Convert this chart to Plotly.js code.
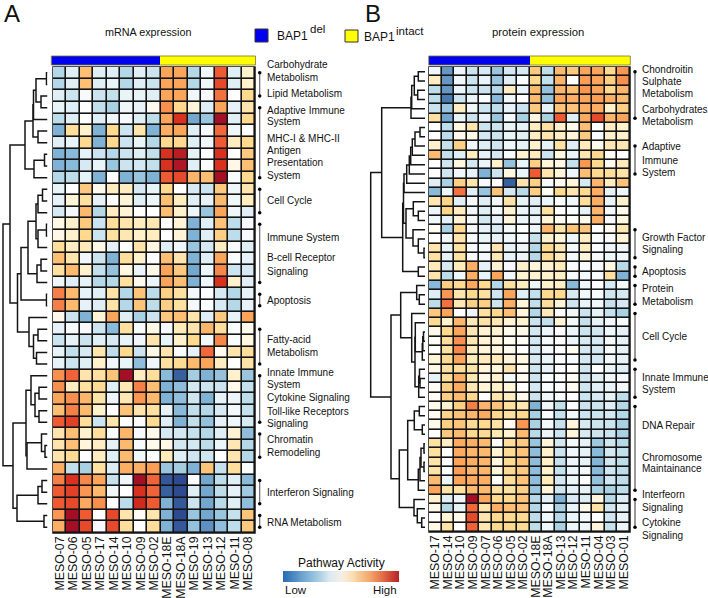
<!DOCTYPE html>
<html><head><meta charset="utf-8">
<script src="https://cdn.plot.ly/plotly-3.0.1.min.js"></script>
<style>html,body{margin:0;padding:0;background:#fff}#c{width:708px;height:598px}</style>
</head><body><div id="c"></div>
<script>
var W=708,H=598;
var samplesA=['MESO-07','MESO-06','MESO-05','MESO-17','MESO-14','MESO-10','MESO-09','MESO-02','MESO-18E','MESO-18A','MESO-19','MESO-13','MESO-12','MESO-11','MESO-08'];
var samplesB=['MESO-17','MESO-14','MESO-10','MESO-09','MESO-07','MESO-06','MESO-05','MESO-02','MESO-18E','MESO-18A','MESO-13','MESO-12','MESO-11','MESO-04','MESO-03','MESO-01'];
var delCountA=8, delCountB=8;
var valuesA=[
[-2,-1,2.5,-1,-1,-2,-1,-1.5,3,3,-2,-.5,4,-1,1],
[-2,-1,2.5,-1,-.7,-2,-1,-1.5,3,3,-2,-.5,4.2,-1,1],
[-1,-1.5,-.3,-1.5,-1.7,-.7,-.7,-1,3,3,-.5,-.3,3.7,0,2],
[-.7,-1,0,-1.7,-2.2,-.5,-.7,.3,3.3,2,.7,-1,3,-.8,1.5],
[-1.8,-1,0,-1,-.5,-.3,-1,-1.8,3,4.5,-3.2,-2.5,5,-1,2],
[-3,1.8,1,-3,2,-1.5,1.5,-3,2.8,3,-1,-.3,3.8,-.5,0],
[-1,-.7,2,-3,2,-1.5,-.7,-2,2,2,-1,-.5,4,1.2,2],
[-3,-2.8,-.8,-1.5,-2,-1.5,-1,-1.7,4.5,4.8,-.8,0,4.5,0,2.3],
[-3,-2.8,-1.2,-.7,-2.5,-1.5,-1.3,-1.7,4.5,4.9,-1,-.2,4.5,.5,2.5],
[-2,-1.8,-.8,-3,0,-3,-2.5,-3,4,4.2,2.7,2.5,5,-.2,2],
[-.7,0,2.3,.4,1.2,1.2,-1.2,-.7,2,0,-1.2,-1.5,2.3,-.5,1.5],
[-.8,.8,1.7,-.8,0,.8,-1,-.6,2.5,1.2,-1,-.8,2.6,-.5,1.2],
[-1.2,-.4,2.6,-2,1.2,.8,0,0,2.5,1,-.6,-2.5,3,-.5,-1],
[.5,1,2.3,-1.5,1.8,1.5,1.2,1.4,0,.8,-3,-1,2.4,-1.8,-.3],
[.5,1,2,-1.5,1.7,1.4,1,1.2,0,.8,-3,-1,2.2,-1.8,-.3],
[1.8,1.2,1.3,.5,-.8,0,1.6,.6,-1,-.5,-2.5,-1.2,1.2,-.3,-1],
[2.5,1.5,-.5,-1.5,-3,1.8,1,0,2.5,1.5,-3,-1,3,-.2,-.8],
[1.7,2.6,1,-1.7,-2.6,.6,-.6,.5,3,2.3,-3.2,-.6,3.4,-1.5,-1.2],
[-.5,-1,-.8,-2,-2,1.7,.4,-.6,3,2.5,-3,-.5,4.5,1,-1],
[3.5,2.6,-.8,-1,1.6,-2,2.4,-1.8,2.2,1.7,-.4,-.1,-1.2,-2,-.8],
[3.5,2.6,-.8,-1,1.6,-2,2.4,-1.8,2.2,1.7,-.4,-.1,-1.2,-2,-.8],
[.4,-1.5,-3,.8,3,-1,-2.2,-1.5,2.3,2.5,1.5,-1,2.3,-.8,3],
[-.8,-.3,-.3,-1.5,-2.8,1.7,-.3,.5,-.3,1.3,1.5,2.7,1.8,-.2,.4],
[-1.5,-.8,-1.5,-1,-1.2,-.7,-.5,1.5,-.7,1,2,-.4,3.4,-.2,.6],
[-.8,-1.7,-1.2,1.5,-1.8,2,-1.5,.5,1.5,-.2,-.8,3.8,.3,1.5,1.8],
[-.8,-1.5,-1,1,-.5,-.7,-2.7,-.5,1.7,1.9,2.6,3,1.2,0,1.6],
[3.3,3.9,1.5,1.7,2.4,5,1.2,1.8,-2.8,-4.5,-2.3,-3,-2.6,1,-2.5],
[3.3,1.2,1.7,1.9,-1,1.4,3.5,2.5,-3,-2.7,-1.3,-1.5,-1.5,.4,-1.6],
[3,3.3,2.7,1.6,-.6,1.4,3.2,2.6,-3,-2.7,-1.4,-3,-.8,-.6,-1.8],
[2.5,3.5,2.6,1,0,2.4,1.5,1.7,-.8,-2.8,-1.7,-2,-1.2,-.4,-1.6],
[4,4.3,1.8,-1.5,1.5,.1,-.2,1.9,-1,-3,-1.7,-2.6,-.8,-.5,-1.2],
[1.5,2.5,1,1.8,-.2,2.7,-.3,.4,-1.2,-1.3,-1.6,-2,-1,.9,-2.7],
[1.5,2.5,.7,1.2,-.8,2.6,-.3,.4,.5,-1.3,-1.3,-1.8,-.6,1.4,-2],
[1.5,1.9,0,1.2,-1,2.6,-.5,-.1,1.3,-1,-1.4,-1.4,0,1.5,-2],
[2.8,-1.7,-2.2,1.7,-1.1,2.8,2.8,3.1,-2.5,-2.3,-3,2.4,-1.6,1.8,-.2],
[3.5,4.5,3.4,3,-1.6,-.5,5,3.9,-4.7,-5,0,-3.2,-1.8,-1,-2.8],
[4,4.3,3.2,2.6,-.5,0,4.5,3.9,-4.5,-5,-1,-3.2,-1.8,-.8,-2.4],
[4,4.2,2.9,3.3,0,-1.8,4.6,4,-3,-4.7,-1.5,-3.2,-1.9,-1,-2.7],
[3.2,5,4,0,4.2,1.5,.2,1.5,-3,-5,-2.5,-3.2,-2.5,-1.6,2.4],
[2.8,5,4.2,-.3,4.2,1.8,0,1.8,-3,-4.7,-2.6,-3.6,-2.7,-1.8,2.3]];
var valuesB=[
[-.5,-3.5,-.6,-1.5,-1.2,-2.5,-1.3,-1.2,2.3,-1.8,2.6,2.3,3,3,2,3.2],
[1.2,-3.5,-.5,-1.5,-.7,-2.5,-1,-.1,2,-1.7,2.7,0,3.1,3,2.2,3.3],
[-1.8,-3.5,-.6,-1.5,-1.5,-2,1.2,-.7,2.6,-2.6,2.7,2.5,3.2,3,2,2.7],
[-1.8,-4,-1.5,-.7,-.2,-2.8,-.5,0,2.6,-2.6,3,2.8,3,3.1,2.8,2.6],
[-1.5,-2.5,1.2,-.5,-1.5,-1.8,-.8,-1.5,2.3,-.8,2.4,2.4,2.8,2.8,1,2.2],
[1.7,-3.2,-.7,-1.5,-.8,-2.5,-.4,-2.2,.6,-2.2,4,-1,2.9,4.2,2.7,3],
[0,-1.8,.6,1.5,-1.5,-1.5,-.7,-.8,1.2,1.7,1,.5,2.5,0,1.2,1],
[0,-1.8,.4,.5,-1.3,-1.5,-.7,-.9,1.2,1.5,1.2,.7,2.3,-.2,1,1],
[1,-1.6,2.2,-.5,-1,-1.4,-.6,-.8,1,-.8,1.7,-1,1.3,.4,1.4,1.4],
[2.6,-1.6,-1,1.2,-.8,-1.2,-.3,.9,1.3,-1.5,.6,-.7,1.5,2,.2,0],
[0,-1.4,.6,-1.3,-.6,1,-2.6,-.7,2.2,.7,.5,-1.6,3.2,2,.3,1.3],
[0,-1.4,-.5,-.8,-3,-1.5,.6,-.7,4,1.5,.7,-.5,2.5,2,1.8,1.6],
[-1,-2.2,2.2,1.5,-.3,0,-4.5,1.5,2.2,-.3,.3,.8,-1.2,2.7,1.2,2.4],
[-2.8,-.6,3.7,-1,-2.5,2.4,-1.3,-1.9,2.2,.3,2,1.5,2,2.8,-.8,-.5],
[1.4,2.1,-1,-.3,-1,-.5,1.6,-.7,-1,-.6,-.2,-.5,1.8,2.8,-.7,1],
[-.6,2.1,1.2,-.5,-1,-.4,.9,-.6,-.9,1.7,0,-.2,-.8,2.7,-.4,.4],
[-.5,-.9,.9,-.4,-1.3,-.8,.7,-.6,-.7,.8,.3,.1,.4,2.8,-.3,.6],
[.2,-2.2,2,-.4,-.8,-1.2,-.4,0,-.6,2.7,1.6,2.4,2.4,-.1,.3,1.4],
[0,-.5,1.5,-.3,-.7,-.8,-.5,-.3,-1.6,1,.7,-.6,1.2,-.2,-.2,.8],
[1.5,-.8,1.7,-.3,-.4,1.5,-.8,-.6,-2,2,1.4,-.4,1.2,-.2,-.6,-.5],
[1.7,-.8,1.7,-.3,-.4,1.4,-.8,-.6,-2,1.9,1.3,-.4,.7,-.3,-.6,-.5],
[1.3,-1.2,1.3,2.8,-.8,.9,-.3,1,.7,.9,1.3,-.2,-.2,-.3,.6,-1.9],
[1.5,-1.8,-.5,2.8,-.7,3,-.4,.9,.9,1,1.1,-.3,-.3,-.3,1.7,-3],
[-2.8,2.2,1.9,2.9,2,-2,1.7,1.2,-.6,1,1.1,-2.8,-.5,0,-1.2,-.4],
[-1,3.2,1.5,2,1.7,-1.4,3,-1,-1.7,2,2,-1.2,-.5,-.3,-1.4,-1.3],
[-1.8,3.7,1.4,2.2,2.2,-1.5,2.8,.7,-1.7,1.8,.8,-1.4,-.7,-.5,-1.6,-1.3],
[2.3,3,0,-.5,1.7,2,2.5,.7,-2,1.3,-.1,-.5,-1.5,-.8,-1.6,-2.2],
[1.9,.9,2.7,1.3,1.6,1.4,.8,.9,-1.5,-1.7,.8,-.4,-1.6,-.8,-.4,-.2],
[.5,2,3,1.4,.9,.9,.4,.5,-1.3,-.6,-.1,-.6,-1.5,-1.3,-.5,-.8],
[.2,1.8,3.3,1.4,.8,.7,.3,.2,-1.3,-.4,0,-.6,-1.2,-1.2,-.4,-.8],
[0,1.7,3.4,1.2,.7,.7,.3,0,-1.2,-.4,-.1,.3,-1.3,-1.3,-.3,-.8],
[.8,2,3,1.3,1.3,1.3,.7,.6,-1.2,-.7,-.1,-.3,-1.3,-1.3,-.5,-.8],
[.5,1.7,1.8,1.6,.7,.7,1.5,.3,-1.4,-.8,-.1,.1,-1.4,0,-.7,-1],
[-.8,1.8,2.8,1.4,.5,1,-.4,.3,-1.5,-.2,-.1,.2,-1.4,-1,-.5,-.2],
[.2,2.2,2.9,1.4,.8,1,.7,0,-1.3,-.2,-.1,.3,-1.4,-1,-.7,-.4],
[.2,2.2,2.6,2,0,1.5,1.2,.4,-1.5,-.5,-.2,0,-1.5,-1.2,-.8,-1.8],
[.4,.9,2.2,3.5,2.7,2.4,1.7,1.4,-3,-.5,-1.7,0,-1.5,-1.5,-1,-2],
[.3,2.1,2.4,2.7,2.9,2,1.7,2,-2.2,-.2,-1.6,-.4,-1.5,-1.5,-1.3,-2],
[.4,2.2,2.4,1.9,2,1.6,.3,3.2,-2.2,-.4,-1.6,.7,-1.2,-1.5,-1.5,-2.2],
[0,2.3,2.6,2,1.9,1.4,.9,2.6,-1.9,-.6,-1.5,.7,-1.2,-1.4,-1.5,-2.2],
[1.7,1.1,2.9,2.8,2.6,0,1.8,2.3,-2.5,.7,-1.3,-.4,-.8,-2.4,-1.4,-2],
[1.7,0,2.9,2.7,2.6,.8,1.9,2.4,-2.7,1,-1.5,-.5,-.8,-2.8,-1.3,-1.7],
[1.6,-.1,3,2.8,2.7,.6,1.9,2.4,-2.7,1.1,-1.6,-.6,-.8,-2.9,-1.4,-1.8],
[1.6,-.1,3.1,2.7,2.7,.7,1.9,2.3,-2.7,1,-1.6,-.6,-.4,-2.8,-1.4,-1.8],
[2.6,-.6,3,2.9,2.8,0,1.8,2.4,-2.7,1.3,-1.3,-.6,0,-2.6,-1.4,-1.8],
[3,1.6,1.7,2.6,2.6,1.7,1.7,2.2,-2.5,.7,-1.4,-.9,-.8,-2.2,-2.2,-1.8],
[1,-1,-.6,5,3,2,2,2.4,-2,-.9,-3,-1.2,-1.1,.7,-2,-1.1],
[.5,-2,-.8,3.8,1.5,2.8,2.5,2.4,-2,-.3,-2.2,-.7,.4,1.6,-1.4,-.8],
[0,.8,.4,4.2,1.5,2,2,2,-1.8,-.5,-2,-.6,-.4,0,-1.4,-.8],
[.5,1.6,0,3.9,1.4,2,2,1.9,-1.8,-.5,-2.2,-.6,-.6,.7,-1.6,-.6]];
// dendrogram merges: [height, left, right]; numbers are row numbers
var treeA=[44.5,
 [37.5,
  [22.5,[14.5,[14,[11.5,[1,1,2],[6.5,3,4]],5],[9.5,6,7]],[13.5,[3,8,9],10]],
  [30,
   [26.5,[19.5,[11.5,[9.5,[5,11,12],13],[9.5,[1,14,15],16]],[10.5,[6.5,17,18],19]],[1,20,21]],
   [18.5,22,[14,[9.5,23,24],[11,25,26]]]]],
 [34.5,
  [21.5,[16.5,27,[12.5,[8.5,28,29],[8.5,30,31]]],[20.5,[6,32,[2.5,33,34]],35]],
  [30.5,[9.5,[5.5,36,37],38],[3.5,39,40]]]];
var treeB=[54.3,
 [43.3,
  [14,[13.3,[10.7,[6.7,1,2],[7.3,3,4]],5],6],
  [22.3,
   [21.5,
    [21,[18.3,[15.7,[14.3,[12.7,[10,[5,7,8],9],10],11],12],13],14],
    [19,[11.7,15,[6.7,16,17]],[12,18,[6.7,19,[1,20,21]]]]],
   [6.7,22,23]]],
 [34,
  [24.3,
   [8.3,24,[5.7,25,26]],
   [13.3,27,[10,[9.7,28,[2.7,[2.2,[1.5,29,30],31],32]],[6.3,[5.5,33,[5,34,35]],36]]]],
  [25.7,
   [17.3,[10.7,[5.7,37,38],[2.7,39,40]],[6.7,[5,[4,[1,41,42],[1,43,44]],45],46]],
   [11,47,[7.7,48,[3.3,49,50]]]]]];
var bracketsA=[[1,3],[4,10],[11,13],[14,19],[20,21],[23,26],[27,31],[32,34],[36,38],[39,40]];
var bracketsB=[[1,6],[9,12],[18,21],[22,23],[24,26],[27,32],[33,36],[37,46],[47,50]];
var labelsA=[['Carbohydrate',64],['Metabolism',77],['Lipid Metabolism',93],['Adaptive Immune',110],['System',122],['MHC-I & MHC-II',139],['Antigen',151],['Presentation',163],['System',175],['Cell Cycle',200],['Immune System',237],['B-cell Receptor',258],['Signaling',271],['Apoptosis',300],['Fatty-acid',339],['Metabolism',352],['Innate Immune',372],['System',384],['Cytokine Signaling',397],['Toll-like Receptors',411],['Signaling',423],['Chromatin',439],['Remodeling',452],['Interferon Signaling',492],['RNA Metabolism',522]];
var labelsB=[['Chondroitin',69],['Sulphate',81],['Metabolism',93],['Carbohydrates',109],['Metabolism',122],['Adaptive',147],['Immune',160],['System',172],['Growth Factor',237],['Signaling',249],['Apoptosis',271],['Protein',288],['Metabolism',301],['Cell Cycle',336],['Innate Immune',377],['System',389],['DNA Repair',425],['Chromosome',457],['Maintainance',468],['Interfeorn',494],['Signaling',507],['Cytokine',522],['Signaling',535]];
var legendScale=[-5,-4.5,-4,-3.5,-3,-2.5,-2,-1.5,-1,-.5,0,.5,1,1.5,2,2.5,3,3.5,4,4.5,5];

var scale=[[0,'#2f4b8f'],[.05,'#38609f'],[.1,'#4a7ab3'],[.2,'#7fb2d5'],[.3,'#b5d8e8'],[.4,'#e0eff6'],[.5,'#ffffff'],[.6,'#fff1cc'],[.7,'#fed98e'],[.8,'#fba55a'],[.9,'#ef5a33'],[.95,'#d9301f'],[1,'#a50f26']];
var ink='#141414';
var font='"Liberation Sans", Arial, sans-serif';
function dx(a,b){return [a/W,b/W];}
function dy(top,bot){return [1-bot/H,1-top/H];}
function rows(n){var r=[];for(var i=1;i<=n;i++)r.push(i);return r;}
function dendro(tree){
  var xs=[],ys=[];
  function walk(n){
    if(typeof n==='number')return {h:0,y:n};
    var a=walk(n[1]),b=walk(n[2]);
    xs.push(a.h,n[0],n[0],b.h,null);ys.push(a.y,a.y,b.y,b.y,null);
    return {h:n[0],y:(a.y+b.y)/2};
  }
  walk(tree);return {x:xs,y:ys};
}
function brackets(list){
  var lx=[],ly=[],dotx=[],doty=[];
  list.forEach(function(b){
    lx.push(0,0,null);ly.push(b[0],b[1],null);
    dotx.push(0,0);doty.push(b[0],b[1]);
  });
  return {lx:lx,ly:ly,dotx:dotx,doty:doty};
}
var traces=[],layout={
  width:W,height:H,margin:{l:0,r:0,t:0,b:0},paper_bgcolor:'#fff',plot_bgcolor:'rgba(0,0,0,0)',
  showlegend:false,font:{family:font,color:'#111'},shapes:[],annotations:[]
};
function hidden(o){o.visible=false;o.fixedrange=true;return o;}
function panel(idx,samples,values,tree,brk,delCount,geo){
  var n=idx*10;
  var X='x'+(n+1),Y='y'+(n+1),XD='x'+(n+2),XB='x'+(n+3),Y2='y'+(n+4),XT='x'+(n+5);
  var nr=values.length;
  layout['xaxis'+(n+1)]={domain:dx(geo.l,geo.r),anchor:Y,type:'category',tickmode:'array',tickvals:samples,ticktext:samples,tickangle:-90,ticks:'',showgrid:false,zeroline:false,showline:false,
    tickfont:{size:12.3,family:font,color:'#111'},range:[-.5,samples.length-.5],fixedrange:true,automargin:false};
  layout['yaxis'+(n+1)]=hidden({domain:dy(geo.t,geo.b),anchor:X,range:[nr+.5,.5]});
  layout['xaxis'+(n+2)]=hidden({domain:dx(geo.dl,geo.dr),anchor:Y,range:[geo.dh,0]});
  layout['xaxis'+(n+3)]=hidden({domain:dx(geo.bx-1,geo.bx+1),anchor:Y,range:[-1,1]});
  layout['yaxis'+(n+4)]=hidden({domain:dy(56,65),anchor:XT,range:[-.5,.5]});
  layout['xaxis'+(n+5)]=hidden({domain:dx(geo.tl,geo.tr),anchor:Y2,type:'category',range:[-.5,samples.length-.5]});
  layout.shapes.push({type:'rect',xref:'paper',yref:'paper',x0:geo.l/W,x1:geo.r/W,y0:1-geo.b/H,y1:1-geo.t/H,fillcolor:ink,line:{width:1.5,color:ink},layer:'below'});
  traces.push({type:'heatmap',x:samples,y:rows(nr),z:values,xaxis:X,yaxis:Y,colorscale:scale,zmin:-5,zmax:5,showscale:false,xgap:1.6,ygap:1.6,hoverinfo:'skip'});
  var bar=samples.map(function(s,i){return i<delCount?0:1;});
  traces.push({type:'heatmap',x:samples,y:[0],z:[bar],xaxis:XT,yaxis:Y2,colorscale:[[0,'#0000f0'],[1,'#ffff00']],zmin:0,zmax:1,showscale:false,hoverinfo:'skip'});
  layout.shapes.push({type:'rect',xref:'paper',yref:'paper',x0:geo.tl/W,x1:geo.tr/W,y0:1-65/H,y1:1-56/H,line:{width:.8,color:'#77772a'}});
  var d=dendro(tree);
  traces.push({type:'scatter',mode:'lines',x:d.x,y:d.y,xaxis:XD,yaxis:Y,line:{color:ink,width:1.5},hoverinfo:'skip'});
  var b=brackets(brk);
  traces.push({type:'scatter',mode:'lines',x:b.lx,y:b.ly,xaxis:XB,yaxis:Y,line:{color:'#777',width:1.5},hoverinfo:'skip',cliponaxis:false});
  traces.push({type:'scatter',mode:'markers',x:b.dotx,y:b.doty,xaxis:XB,yaxis:Y,marker:{color:'#000',size:3.5},hoverinfo:'skip',cliponaxis:false});
}
panel(1,samplesA,valuesA,treeA,bracketsA,delCountA,{l:53,r:255,t:67,b:533,dl:0,dr:47.5,dh:47.5,bx:259.7,tl:51.3,tr:255.5});
panel(2,samplesB,valuesB,treeB,bracketsB,delCountB,{l:429,r:630,t:67,b:532,dl:360,dr:425,dh:65,bx:635,tl:428.7,tr:630.3});

layout.xaxis31=hidden({domain:dx(283,399),anchor:'y31',range:[0,legendScale.length-1]});
layout.yaxis31=hidden({domain:dy(571,582),anchor:'x31',range:[-.5,.5]});
traces.push({type:'heatmap',x:legendScale.map(function(v,i){return i;}),y:[0],z:[legendScale],xaxis:'x31',yaxis:'y31',colorscale:[[0,'#2a6db3'],[.25,'#8fbfdc'],[.4,'#dbeaf2'],[.5,'#f5efe6'],[.6,'#fbdcae'],[.75,'#f3a468'],[.9,'#d9553a'],[1,'#b1232a']],zmin:-5,zmax:5,zsmooth:'best',showscale:false,hoverinfo:'skip'});

function note(text,x,y,size,anchor){
  layout.annotations.push({text:text,xref:'paper',yref:'paper',x:x/W,y:1-y/H,xanchor:anchor||'left',yanchor:'middle',showarrow:false,font:{size:size,family:font,color:'#111'},align:'left',borderpad:0});
}
labelsA.forEach(function(l){note(l[0].replace('&','&amp;'),266,l[1],10);});
labelsB.forEach(function(l){note(l[0],641,l[1],10);});
note('A',3,14,24);note('B',364,14,24);
note('mRNA expression',148,32,10.8,'center');note('protein expression',538,32,11.3,'center');
note('BAP1',276,36,12);note('del',309,29,11.5);
note('BAP1',363,37,12);note('intact',395,31,11.5);
note('Pathway Activity',341,563,12,'center');
note('Low',284,590,11.5);note('High',398,590,11.5,'right');
layout.shapes.push({type:'rect',xref:'paper',yref:'paper',x0:255/W,x1:268/W,y0:1-42/H,y1:1-29/H,fillcolor:'#0000f0',line:{width:1,color:'#333'}});
layout.shapes.push({type:'rect',xref:'paper',yref:'paper',x0:345/W,x1:358/W,y0:1-42/H,y1:1-30/H,fillcolor:'#ffff00',line:{width:1,color:'#333'}});
Plotly.newPlot('c',traces,layout,{staticPlot:true,displayModeBar:false});
</script></body></html>
